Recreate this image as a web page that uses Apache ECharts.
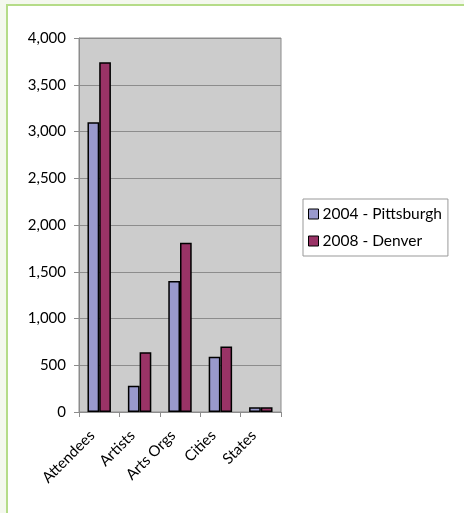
<!DOCTYPE html>
<html>
<head>
<meta charset="utf-8">
<script src="https://cdn.jsdelivr.net/npm/echarts@6/dist/echarts.min.js"></script>
<style>
  html, body { margin: 0; padding: 0; background: #f4f8ee; }
  #chart { width: 464px; height: 513px; }
</style>
</head>
<body>
<div id="chart"></div>
<script>
const categories = ['Attendees', 'Artists', 'Arts Orgs', 'Cities', 'States'];
const pittsburgh = [3100, 280, 1400, 590, 50];
const denver = [3740, 640, 1810, 700, 50];
const yTicks = { min: 0, max: 4000, step: 500 };

const font = 'Lato, "DejaVu Sans", sans-serif';
const myChart = echarts.init(document.getElementById('chart'));

const options = {
  animation: false,
  textStyle: { fontFamily: font },
  graphic: [
    {
      type: 'rect',
      shape: { x: 7, y: 5, width: 520, height: 600 },
      style: { fill: '#ffffff', stroke: '#b5dc88', lineWidth: 2 },
      z: -10,
      silent: true
    }
  ],
  grid: {
    left: 79, right: 183, top: 38, bottom: 101,
    show: true,
    backgroundColor: '#cccccc',
    borderColor: '#8c8c8c',
    borderWidth: 1
  },
  legend: {
    orient: 'vertical',
    left: 303,
    top: 199,
    padding: [7, 6, 7, 5],
    itemGap: 11,
    itemWidth: 10,
    itemHeight: 10,
    borderColor: '#999999',
    borderWidth: 1,
    backgroundColor: '#ffffff',
    icon: 'rect',
    textStyle: { fontSize: 15.5, color: '#000', fontFamily: font, padding: [0, 0, 0, -1] },
    data: [
      { name: '2004 - Pittsburgh', itemStyle: { borderColor: '#000', borderWidth: 1 } },
      { name: '2008 - Denver', itemStyle: { borderColor: '#000', borderWidth: 1 } }
    ]
  },
  xAxis: {
    type: 'category',
    data: categories,
    axisLine: { lineStyle: { color: '#8c8c8c' } },
    axisTick: { show: true, length: 5, lineStyle: { color: '#8c8c8c' } },
    axisLabel: {
      rotate: 45, fontSize: 15, color: '#000', margin: 14, interval: 0,
      padding: [0, 10, 0, 0]
    }
  },
  yAxis: {
    type: 'value',
    min: yTicks.min,
    max: yTicks.max,
    interval: yTicks.step,
    axisLine: { show: true, lineStyle: { color: '#8c8c8c' } },
    axisTick: { show: true, length: 5, lineStyle: { color: '#8c8c8c' } },
    splitLine: { lineStyle: { color: '#8c8c8c' } },
    axisLabel: {
      fontSize: 15, color: '#000', margin: 13,
      formatter: v => v.toLocaleString('en-US')
    }
  },
  series: [
    {
      name: '2004 - Pittsburgh',
      type: 'bar',
      data: pittsburgh,
      barGap: 0,
      barCategoryGap: '42%',
      itemStyle: { color: '#9999cc', borderColor: '#000', borderWidth: 1.5 }
    },
    {
      name: '2008 - Denver',
      type: 'bar',
      data: denver,
      barGap: 0,
      barCategoryGap: '42%',
      itemStyle: { color: '#993366', borderColor: '#000', borderWidth: 1.5 }
    }
  ]
};
myChart.setOption(options);
</script>
</body>
</html>
